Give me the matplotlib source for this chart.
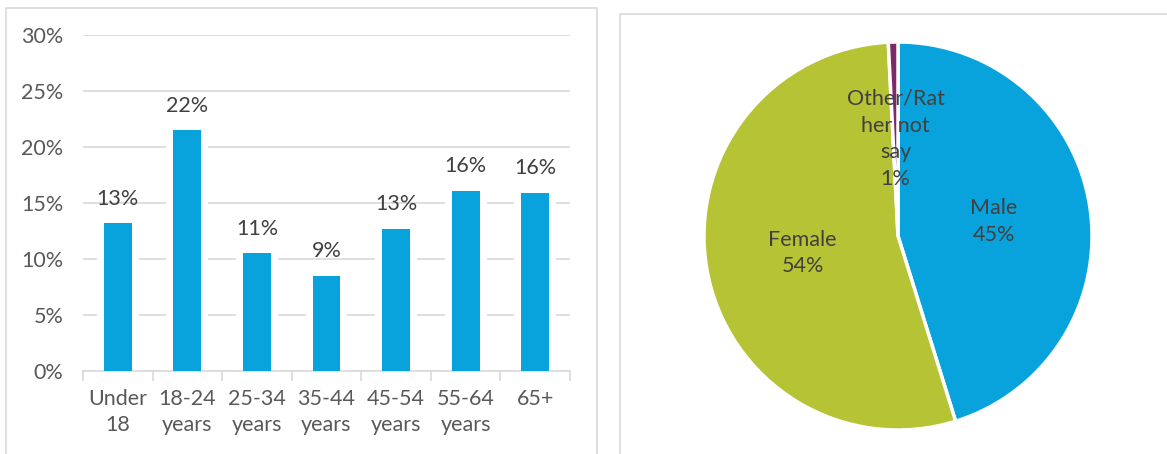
import matplotlib
matplotlib.use("Agg")
import matplotlib.pyplot as plt
from matplotlib.patches import Rectangle

# ---- data ----
age_groups = ["Under\n18", "18-24\nyears", "25-34\nyears", "35-44\nyears",
              "45-54\nyears", "55-64\nyears", "65+"]
age_share = [13.2, 21.5, 10.5, 8.5, 12.7, 16.1, 15.9]
age_labels = ["13%", "22%", "11%", "9%", "13%", "16%", "16%"]
y_ticks = [0, 5, 10, 15, 20, 25, 30]

gender_names = ["Male", "Female", "Other/Rat\nher not\nsay"]
gender_share = [45.2, 54.0, 0.8]
gender_labels = ["45%", "54%", "1%"]

BLUE = "#08A2DC"
OLIVE = "#B6C334"
PURPLE = "#7B2A6A"
GRID = "#D9D9D9"
TXT = "#595959"
LBL = "#404040"

plt.rcParams['font.family'] = ['Lato', 'DejaVu Sans']
FS = 15.5

W, H = 1167, 454
fig = plt.figure(figsize=(W / 100, H / 100), dpi=100)

def fx(px):
    return px / W

def fy(py):
    return 1 - py / H

# panel frames
fig.patches.append(Rectangle((fx(6), fy(460)), fx(591), (460 - 8) / H,
                             transform=fig.transFigure, fill=False,
                             edgecolor=GRID, linewidth=1.2))
fig.patches.append(Rectangle((fx(620), fy(460)), fx(600), (460 - 14) / H,
                             transform=fig.transFigure, fill=False,
                             edgecolor=GRID, linewidth=1.2))

# ---- bar chart ----
ax = fig.add_axes([fx(83), fy(371), fx(570 - 83), (371 - 35) / H])
x = list(range(len(age_groups)))
ax.bar(x, age_share, width=0.6, color="white", zorder=2)
bars = ax.bar(x, age_share, width=0.4, color=BLUE, zorder=3)
for xi, v, lab in zip(x, age_share, age_labels):
    ax.annotate(lab, (xi, v), xytext=(0, 10.5), textcoords="offset points",
                ha="center", va="bottom", fontsize=FS, color=LBL, zorder=4)
ax.set_xlim(-0.5, len(age_groups) - 0.5)
ax.set_ylim(0, 30)
ax.set_yticks(y_ticks)
ax.set_yticklabels([f"{t}%" for t in y_ticks])
ax.set_xticks(x)
ax.set_xticklabels(age_groups, linespacing=1.35)
ax.set_xticks([i - 0.5 for i in range(len(age_groups) + 1)], minor=True)
ax.tick_params(axis="x", which="major", length=0, pad=13, labelsize=FS,
               labelcolor=TXT)
ax.tick_params(axis="x", which="minor", length=7, color=GRID, width=1.2)
ax.tick_params(axis="y", length=0, pad=14, labelsize=FS, labelcolor=TXT)
ax.yaxis.grid(True, color=GRID, linewidth=1.2, zorder=0)
ax.set_axisbelow(True)
for s in ["top", "right", "left"]:
    ax.spines[s].set_visible(False)
ax.spines["bottom"].set_color(GRID)
ax.spines["bottom"].set_linewidth(1.2)

# ---- pie chart ----
pax = fig.add_axes([fx(704), fy(430), fx(388), 388 / H])
wedges, texts = pax.pie(gender_share, colors=[BLUE, OLIVE, PURPLE],
                        startangle=90, counterclock=False,
                        labels=[f"{n}\n{p}" for n, p in zip(gender_names, gender_labels)],
                        labeldistance=0.5,
                        wedgeprops=dict(edgecolor="white", linewidth=2.5))
for t in texts:
    t.set_ha("center")
    t.set_va("center")
    t.set_fontsize(FS)
    t.set_color(LBL)
    t.set_linespacing(1.42)
    t.set_multialignment("center")
pax.set_xlim(-1, 1)
pax.set_ylim(-1, 1)
pax.set_aspect("equal")

fig.savefig("out.png", dpi=100)
